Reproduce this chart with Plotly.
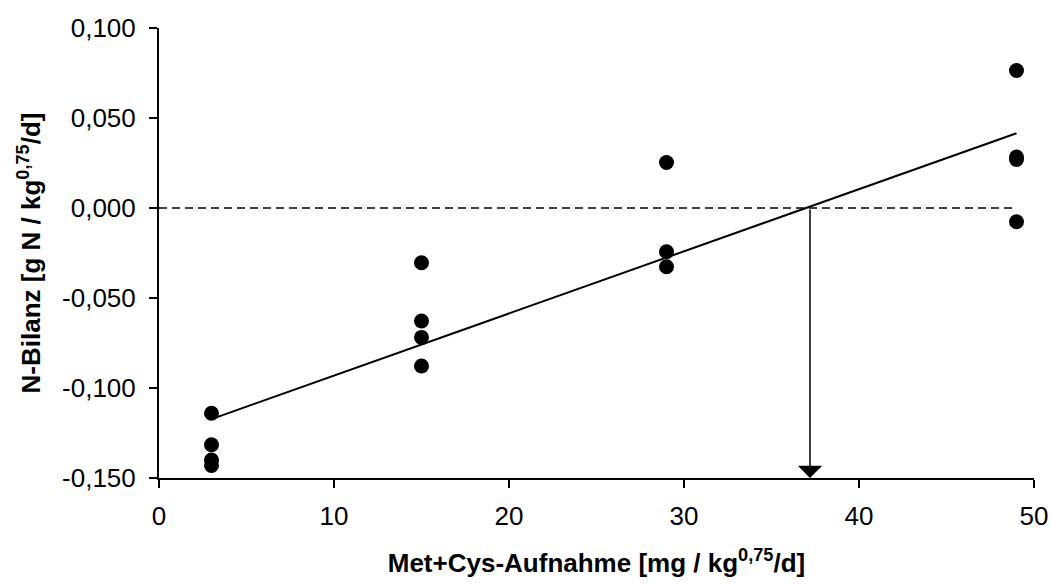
import numpy as np
import plotly.graph_objects as go

# Data
met_cys = [3, 3, 3, 3, 15, 15, 15, 15, 29, 29, 29, 49, 49, 49, 49]
n_bilanz = [-0.114, -0.1315, -0.140, -0.143,
            -0.0304, -0.0628, -0.0719, -0.0878,
            0.0253, -0.0243, -0.0326,
            0.0764, 0.0283, 0.0270, -0.0076]
bedarf = 37.2  # Met+Cys intake at N balance = 0 (arrow)

x_ticks = [0, 10, 20, 30, 40, 50]
y_ticks = [0.100, 0.050, 0.000, -0.050, -0.100, -0.150]
y_tick_text = ["0,100", "0,050", "0,000", "-0,050", "-0,100", "-0,150"]

# linear regression
slope, intercept = np.polyfit(met_cys, n_bilanz, 1)
x_fit = np.array([min(met_cys), max(met_cys)])
y_fit = slope * x_fit + intercept

FONT = "Liberation Sans, Arial, sans-serif"

fig = go.Figure()
fig.add_trace(go.Scatter(x=[0, max(met_cys)], y=[0, 0], mode="lines",
                         line=dict(color="black", width=1.5, dash="8px,5px"),
                         hoverinfo="skip", showlegend=False))
fig.add_trace(go.Scatter(x=x_fit, y=y_fit, mode="lines",
                         line=dict(color="black", width=2),
                         showlegend=False))
fig.add_trace(go.Scatter(x=met_cys, y=n_bilanz, mode="markers",
                         marker=dict(color="black", size=15),
                         showlegend=False))

fig.add_annotation(x=bedarf, y=-0.150, ax=bedarf, ay=0.0,
                   xref="x", yref="y", axref="x", ayref="y",
                   showarrow=True, arrowhead=1, arrowsize=2.7, arrowwidth=1.5,
                   arrowcolor="black", text="")

fig.update_layout(
    width=1051, height=587,
    margin=dict(l=159, r=17, t=28, b=109),
    plot_bgcolor="white", paper_bgcolor="white",
    font=dict(family=FONT, size=26, color="black"),
    xaxis=dict(range=[0, 50], tickvals=x_ticks, showgrid=False, zeroline=False,
               automargin=False,
               showline=True, linecolor="black", linewidth=2,
               ticks="outside", ticklen=8, tickwidth=2, tickcolor="black",
               ticklabelstandoff=6,
               tickfont=dict(size=26),
               title=dict(text="<b>Met+Cys-Aufnahme [mg / kg<sup>0,75</sup>/d]</b>",
                          font=dict(size=26), standoff=24)),
    yaxis=dict(range=[-0.150, 0.100], tickvals=y_ticks, ticktext=y_tick_text,
               showgrid=False, zeroline=False, automargin=False,
               showline=True, linecolor="black", linewidth=2,
               ticks="outside", ticklen=8, tickwidth=2, tickcolor="black",
               ticklabelstandoff=8,
               tickfont=dict(size=26),
               title=dict(text="<b>N-Bilanz [g N / kg<sup>0,75</sup>/d]</b>",
                          font=dict(size=26), standoff=14)),
)

fig.write_html("out.html")
